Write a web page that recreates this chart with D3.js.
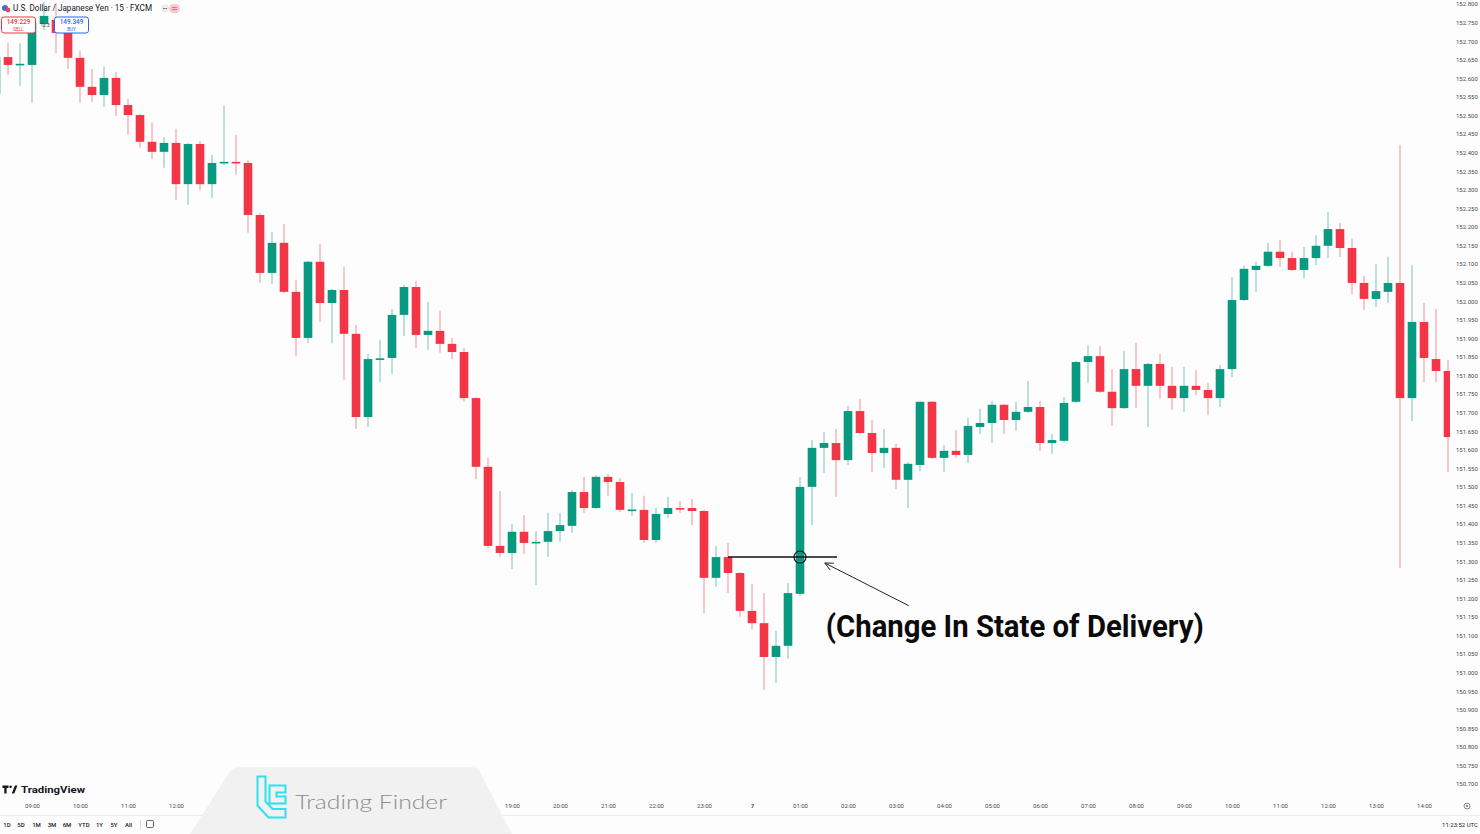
<!DOCTYPE html>
<html><head><meta charset="utf-8">
<script src="https://cdn.jsdelivr.net/npm/d3@7"></script>
<style>
html,body{margin:0;padding:0;background:#fdfdfd;}
svg{display:block;font-family:Roboto,"Liberation Sans",Arial,sans-serif;}
</style></head><body>
<svg id="chart" width="1480" height="834"></svg>
<script>
// ---------------- DATA ----------------
const symbolTitle = "U.S. Dollar / Japanese Yen · 15 · FXCM";
const sellPrice = "149.229", buyPrice = "149.349", spread = "12.3";
const firstBar = "2024-03-06T08:15:00Z";   // first (partially visible) 15-minute bar
const barMinutes = 15;

const opens = [
 152.558,152.657,152.636,152.636,152.746,152.757,152.722,152.655,152.577,152.555,
 152.601,152.528,152.501,152.429,152.402,152.426,152.315,152.423,152.315,152.372,
 152.375,152.372,152.232,152.076,152.157,152.025,151.901,152.106,151.995,152.030,
 151.912,151.688,151.843,151.847,151.963,152.038,151.909,151.920,151.885,151.863,
 151.739,151.554,151.341,151.322,151.379,151.349,151.352,151.381,151.395,151.486,
 151.443,151.527,151.513,151.436,151.438,151.357,151.427,151.443,151.443,151.435,
 151.255,151.311,151.268,151.166,151.133,151.042,151.072,151.212,151.500,151.605,
 151.618,151.572,151.704,151.645,151.591,151.605,151.519,151.559,151.729,151.578,
 151.597,151.586,151.661,151.672,151.721,151.680,151.702,151.715,151.618,151.624,
 151.729,151.836,151.852,151.756,151.712,151.817,151.772,151.831,151.772,151.739,
 151.772,151.761,151.739,151.817,152.003,152.084,152.095,152.133,152.116,152.084,
 152.116,152.149,152.194,152.143,152.049,152.006,152.025,152.049,151.739,151.944,
 151.844,151.812];
const highs = [
 152.676,152.695,152.695,152.762,152.806,152.803,152.730,152.674,152.625,152.631,
 152.617,152.544,152.504,152.480,152.442,152.464,152.426,152.431,152.394,152.526,
 152.448,152.380,152.237,152.186,152.208,152.057,152.108,152.154,152.033,152.092,
 151.936,151.858,151.896,151.979,152.044,152.054,151.998,151.974,151.901,151.874,
 151.742,151.578,151.489,151.400,151.424,151.381,151.430,151.430,151.492,151.527,
 151.532,151.535,151.524,151.484,151.476,151.443,151.473,151.462,151.467,151.438,
 151.341,151.349,151.271,151.239,151.214,151.112,151.241,151.527,151.626,151.648,
 151.656,151.718,151.737,151.680,151.656,151.616,151.567,151.731,151.731,151.613,
 151.653,151.686,151.710,151.731,151.723,151.729,151.785,151.731,151.642,151.742,
 151.839,151.882,151.879,151.817,151.866,151.887,151.834,151.858,151.823,151.823,
 151.815,151.780,151.828,152.065,152.095,152.106,152.157,152.165,152.133,152.146,
 152.178,152.240,152.211,152.168,152.068,152.100,152.119,152.421,152.097,151.995,
 151.979,151.842];
const lows = [
 152.542,152.609,152.579,152.534,152.730,152.668,152.625,152.534,152.536,152.523,
 152.499,152.448,152.413,152.383,152.359,152.273,152.259,152.299,152.278,152.367,
 152.340,152.184,152.049,152.046,152.022,151.852,151.887,151.944,151.887,151.788,
 151.656,151.661,151.782,151.804,151.906,151.874,151.869,151.861,151.844,151.729,
 151.521,151.335,151.311,151.279,151.319,151.236,151.311,151.352,151.376,151.430,
 151.441,151.476,151.432,151.422,151.349,151.349,151.416,151.430,151.397,151.160,
 151.231,151.214,151.150,151.117,150.953,150.972,151.037,151.206,151.397,151.537,
 151.473,151.559,151.642,151.540,151.551,151.494,151.443,151.543,151.575,151.540,
 151.578,151.564,151.642,151.618,151.642,151.651,151.699,151.597,151.589,151.621,
 151.726,151.780,151.753,151.664,151.710,151.712,151.661,151.737,151.707,151.702,
 151.747,151.694,151.715,151.796,152.001,152.025,152.092,152.092,152.081,152.062,
 152.097,152.116,152.119,152.019,151.976,151.984,151.995,151.282,151.677,151.782,
 151.782,151.540];
const closes = [
 152.657,152.636,152.639,152.749,152.768,152.722,152.655,152.577,152.555,152.601,
 152.528,152.501,152.429,152.402,152.426,152.315,152.423,152.315,152.372,152.375,
 152.372,152.232,152.076,152.157,152.025,151.901,152.106,151.995,152.030,151.912,
 151.688,151.844,151.846,151.963,152.038,151.909,151.920,151.885,151.863,151.739,
 151.554,151.341,151.322,151.379,151.349,151.352,151.381,151.397,151.486,151.443,
 151.527,151.513,151.438,151.439,151.357,151.427,151.443,151.441,151.435,151.255,
 151.311,151.268,151.166,151.133,151.042,151.072,151.214,151.500,151.605,151.618,
 151.572,151.704,151.645,151.591,151.605,151.519,151.562,151.729,151.578,151.597,
 151.586,151.664,151.672,151.721,151.680,151.702,151.715,151.618,151.626,151.726,
 151.836,151.852,151.756,151.712,151.817,151.772,151.831,151.772,151.739,151.772,
 151.761,151.739,151.817,152.003,152.087,152.095,152.133,152.116,152.084,152.116,
 152.149,152.194,152.143,152.049,152.006,152.027,152.049,151.739,151.944,151.847,
 151.812,151.634];

const priceTicks = [150.70,150.75,150.80,150.85,150.90,150.95,151.00,151.05,151.10,151.15,
 151.20,151.25,151.30,151.35,151.40,151.45,151.50,151.55,151.60,151.65,151.70,151.75,
 151.80,151.85,151.90,151.95,152.00,152.05,152.10,152.15,152.20,152.25,152.30,152.35,
 152.40,152.45,152.50,152.55,152.60,152.65,152.70,152.75,152.80];
const rangeButtons = ["1D","5D","1M","3M","6M","YTD","1Y","5Y","All"];
const clockText = "11:23:52 UTC";

// annotation (Change In State of Delivery)
const cisdLevel = 151.311;
const cisdStart = "2024-03-06T23:30:00Z", cisdEnd = "2024-03-07T01:45:00Z";
const cisdCircleAt = "2024-03-07T01:00:00Z";
const arrowTip = {t:"2024-03-07T01:31:00Z", p:151.295};
const arrowTail = {t:"2024-03-07T03:16:00Z", p:151.180};
const cisdText = "(Change In State of Delivery)";
const cisdTextAt = {t:"2024-03-07T01:31:00Z", p:151.096};

// ---------------- CHART ----------------
const W = 1480, H = 834;
const svg = d3.select("#chart");
const green = "#089981", red = "#f23645";

const t0 = new Date(firstBar);
const bars = opens.map((o,i)=>({t:d3.utcMinute.offset(t0, i*barMinutes), o, h:highs[i], l:lows[i], c:closes[i]}));

const x = d3.scaleUtc()
  .domain([new Date("2024-03-06T09:00:00Z"), new Date("2024-03-07T14:00:00Z")])
  .range([32, 1424]);
const y = d3.scaleLinear().domain([150.7, 152.8]).range([784, 4]);
const bodyW = 8.6;

svg.append("rect").attr("width",W).attr("height",H).attr("fill","#fdfdfd");

svg.append("defs").append("clipPath").attr("id","plot")
  .append("rect").attr("x",0).attr("y",0).attr("width",1450).attr("height",798);

const plot = svg.append("g").attr("clip-path","url(#plot)");
const col = d => d.c >= d.o ? green : red;

plot.selectAll("line.wick").data(bars).join("line").attr("class","wick")
  .attr("x1",d=>x(d.t)).attr("x2",d=>x(d.t))
  .attr("y1",d=>y(d.h)).attr("y2",d=>y(d.l))
  .attr("stroke",col).attr("stroke-width",1).attr("stroke-opacity",0.55);

plot.selectAll("rect.body").data(bars).join("rect").attr("class","body")
  .attr("x",d=>x(d.t)-bodyW/2).attr("width",bodyW)
  .attr("y",d=>y(Math.max(d.o,d.c)))
  .attr("height",d=>Math.max(1.6, Math.abs(y(d.o)-y(d.c))))
  .attr("fill",col);

// ---- watermark span (covers part of the time scale) ----
const wmLeft = 190, wmRight = 512;

// ---- axes ----
const xAxis = d3.axisBottom(x).ticks(d3.utcHour.every(1)).tickSize(0).tickPadding(3)
  .tickFormat(d => d.getUTCHours()===0 ? String(d.getUTCDate()) : d3.utcFormat("%H:00")(d));
const gx = svg.append("g").attr("transform","translate(0,801)").call(xAxis);
gx.select(".domain").remove();
// labels hidden behind the Trading Finder watermark are not drawn
gx.selectAll(".tick").filter(d => x(d) > wmLeft + 10 && x(d) < wmRight - 10).remove();
gx.selectAll("text").attr("font-size",6).attr("fill","#4a4a4a")
  .attr("font-family","Roboto,Arial,sans-serif")
  .attr("font-weight",d=>d.getUTCHours()===0?700:400);

const yAxis = d3.axisRight(y).tickValues(priceTicks).tickSize(0).tickPadding(0).tickFormat(d3.format(".3f"));
const gy = svg.append("g").attr("transform","translate(1456,0)").call(yAxis);
gy.select(".domain").remove();
gy.selectAll("text").attr("font-size",6).attr("fill","#4a4a4a").attr("font-family","Roboto,Arial,sans-serif");

// separators
svg.append("line").attr("x1",0).attr("x2",W).attr("y1",815.5).attr("y2",815.5).attr("stroke","#ececec");
svg.append("line").attr("x1",140.5).attr("x2",140.5).attr("y1",820).attr("y2",830).attr("stroke","#dedede");

// ---- annotation ----
const ann = svg.append("g");
ann.append("line")
  .attr("x1",x(new Date(cisdStart))).attr("x2",x(new Date(cisdEnd))+1)
  .attr("y1",y(cisdLevel)).attr("y2",y(cisdLevel))
  .attr("stroke","#111").attr("stroke-width",1.6);
ann.append("circle").attr("cx",x(new Date(cisdCircleAt))).attr("cy",y(cisdLevel)).attr("r",6)
  .attr("fill","none").attr("stroke","#111").attr("stroke-width",1.1);
const ax1 = x(new Date(arrowTail.t)), ay1 = y(arrowTail.p), ax2 = x(new Date(arrowTip.t)), ay2 = y(arrowTip.p);
ann.append("line").attr("x1",ax1).attr("y1",ay1).attr("x2",ax2).attr("y2",ay2)
  .attr("stroke","#222").attr("stroke-width",1);
const ang = Math.atan2(ay1-ay2, ax1-ax2), hl = 9, spread2 = 0.45;
ann.append("path")
  .attr("d",`M${ax2+hl*Math.cos(ang-spread2)},${ay2+hl*Math.sin(ang-spread2)}L${ax2},${ay2}L${ax2+hl*Math.cos(ang+spread2)},${ay2+hl*Math.sin(ang+spread2)}`)
  .attr("fill","none").attr("stroke","#222").attr("stroke-width",1);
ann.append("text").attr("x",x(new Date(cisdTextAt.t))+1).attr("y",y(cisdTextAt.p))
  .attr("font-size",32).attr("font-weight",700).attr("fill","#0b0b0b")
  .attr("font-family","Roboto,'Open Sans',sans-serif")
  .attr("textLength",378).attr("lengthAdjust","spacingAndGlyphs")
  .text(cisdText);

// ---- header ----
const hd = svg.append("g");
hd.append("circle").attr("cx",5).attr("cy",8).attr("r",3).attr("fill","#3f6fd8");
hd.append("circle").attr("cx",8).attr("cy",10).attr("r",2.4).attr("fill","#e34b5a");
hd.append("text").attr("x",13).attr("y",11).attr("font-size",8.8).attr("fill","#131722")
  .attr("textLength",139).attr("lengthAdjust","spacingAndGlyphs").text(symbolTitle);
hd.append("circle").attr("cx",165).attr("cy",8.5).attr("r",4).attr("fill","#ececec");
hd.append("line").attr("x1",163).attr("x2",167).attr("y1",8.5).attr("y2",8.5).attr("stroke","#666").attr("stroke-width",0.8);
hd.append("rect").attr("x",169).attr("y",4).attr("width",11).attr("height",9).attr("rx",4.5).attr("fill","#f6c9d3");
hd.append("line").attr("x1",172).attr("x2",177).attr("y1",7.5).attr("y2",7.5).attr("stroke","#e0577a").attr("stroke-width",0.8);
hd.append("line").attr("x1",172).attr("x2",177).attr("y1",9.5).attr("y2",9.5).attr("stroke","#e0577a").attr("stroke-width",0.8);

function priceBox(x0, color, price, label){
  const g = svg.append("g");
  g.append("rect").attr("x",x0).attr("y",17).attr("width",34).attr("height",16).attr("rx",2.5)
    .attr("fill","#fff").attr("stroke",color).attr("stroke-width",1);
  g.append("text").attr("x",x0+17).attr("y",24.2).attr("text-anchor","middle").attr("font-size",6.4)
    .attr("font-weight",500).attr("fill",color).text(price);
  g.append("text").attr("x",x0+17).attr("y",30.8).attr("text-anchor","middle").attr("font-size",4.6)
    .attr("fill",color).text(label);
}
priceBox(1.5, "#f23645", sellPrice, "SELL");
priceBox(54.5, "#2962ff", buyPrice, "BUY");
svg.append("text").attr("x",45).attr("y",26.5).attr("text-anchor","middle").attr("font-size",4.6)
  .attr("fill","#333").text(spread);

// ---- TradingView logo ----
const tv = svg.append("g").attr("fill","#131722");
tv.append("path").attr("d","M2.5,785.5h6v2.4h-1.9v5.6h-2.3v-5.6h-1.8z");
tv.append("circle").attr("cx",10.6).attr("cy",786.8).attr("r",1.3);
tv.append("path").attr("d","M11.8,793.5l3.1,-8h2.5l-3.1,8z");
tv.append("text").attr("x",21).attr("y",793).attr("font-size",9.6).attr("font-weight",700)
  .attr("textLength",64).attr("lengthAdjust","spacingAndGlyphs").text("TradingView");

// ---- bottom toolbar ----
const bx = [7,21,36.5,52,67,84,99.5,114,128.5];
rangeButtons.forEach((b,i)=>{
  svg.append("text").attr("x",bx[i]).attr("y",827).attr("text-anchor","middle")
    .attr("font-size",6).attr("font-weight",500).attr("fill","#131722").text(b);
});
svg.append("rect").attr("x",146.5).attr("y",820.5).attr("width",7).attr("height",7).attr("rx",1.2)
  .attr("fill","none").attr("stroke","#444").attr("stroke-width",0.8);
svg.append("text").attr("x",1478).attr("y",827).attr("text-anchor","end").attr("font-size",6)
  .attr("fill","#131722").text(clockText);
svg.append("circle").attr("cx",1467).attr("cy",806).attr("r",3).attr("fill","none").attr("stroke","#555").attr("stroke-width",0.7);
svg.append("circle").attr("cx",1467).attr("cy",806).attr("r",0.9).attr("fill","#555");

// ---- Trading Finder watermark ----
const wm = svg.append("g");
wm.append("path")
  .attr("d",`M${wmLeft},834 L229,773 Q233,767 241,767 L470,767 Q477,767 480,772 L${wmRight},834 Z`)
  .attr("fill","#f1f1f1");
wm.append("path").attr("d","M257.5,776.5 h8 v25 l7,7.5 h13 v8.5 h-17 l-11,-12 z")
  .attr("fill","none").attr("stroke","#2de2ee").attr("stroke-width",2);
wm.append("path").attr("d","M269.5,785.5 h16 v7 h-9 v4 h9 v7 h-16 z")
  .attr("fill","none").attr("stroke","#2de2ee").attr("stroke-width",2);
wm.append("text").attr("x",295).attr("y",809).attr("font-size",20).attr("font-weight",300)
  .attr("font-family","Lato,'Open Sans',sans-serif").attr("fill","#8c8c8c")
  .attr("textLength",152).attr("lengthAdjust","spacingAndGlyphs").text("Trading Finder");
</script>
</body></html>
